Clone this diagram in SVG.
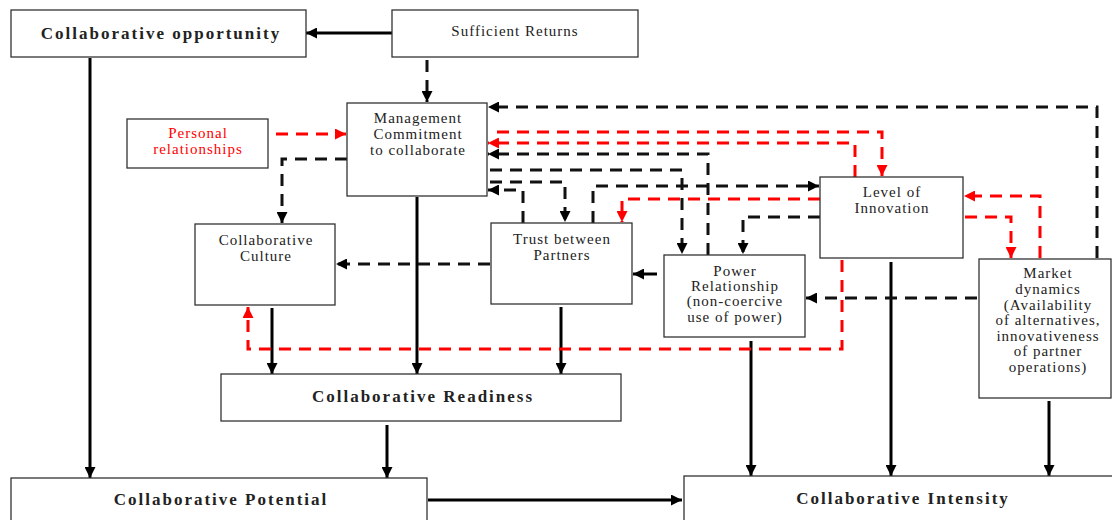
<svg xmlns="http://www.w3.org/2000/svg" width="1112" height="520" viewBox="0 0 1112 520">
<style>
.box{fill:#fff;stroke:#333;stroke-width:1.3}
.t{font-family:"Liberation Serif","Times New Roman",serif;font-size:15px;letter-spacing:1px;text-anchor:middle;fill:#222}
.tb{font-family:"Liberation Serif","Times New Roman",serif;font-size:17px;font-weight:bold;letter-spacing:2px;text-anchor:middle;fill:#222}
.red{fill:#f00}
.s{fill:none;stroke:#000;stroke-width:3;marker-end:url(#ab)}
.d{fill:none;stroke:#111;stroke-width:3;stroke-dasharray:12 8;marker-end:url(#ab)}
.r{fill:none;stroke:#f00;stroke-width:3;stroke-dasharray:12 8;marker-end:url(#ar)}
</style>
<defs>
<marker id="ab" markerUnits="userSpaceOnUse" markerWidth="11" markerHeight="11" refX="11" refY="5.5" orient="auto"><path d="M0,0 L11,5.5 L0,11 z" fill="#000"/></marker>
<marker id="ar" markerUnits="userSpaceOnUse" markerWidth="11" markerHeight="11" refX="11" refY="5.5" orient="auto"><path d="M0,0 L11,5.5 L0,11 z" fill="#f00"/></marker>
</defs>
<rect width="1112" height="520" fill="#fff"/>
<g id="connectors">
<path class="s" d="M392,33 H306"/>
<path class="s" d="M90,58 V478"/>
<path class="s" d="M417,197 V374"/>
<path class="s" d="M272,308 V374"/>
<path class="s" d="M561,307 V374"/>
<path class="s" d="M387,425 V478"/>
<path class="s" d="M428,500 H682"/>
<path class="s" d="M751,341 V476"/>
<path class="s" d="M891,262 V476"/>
<path class="s" d="M1049,401 V476"/>
<path class="s" d="M657,274 H633"/>
<path class="d" d="M427,60 V102"/>
<path class="d" d="M1097,258 V107 H488"/>
<path class="d" d="M347,159 H282 V223"/>
<path class="d" d="M490,264 H336"/>
<path class="d" d="M708,255 V154 H488"/>
<path class="d" d="M490,170 H682 V254"/>
<path class="d" d="M490,182 H565 V222"/>
<path class="d" d="M523,223 V190 H488"/>
<path class="d" d="M593,223 V186 H819"/>
<path class="d" d="M820,217 H743 V254"/>
<path class="d" d="M977,298 H806"/>
<path class="r" d="M276,134 H346"/>
<path class="r" d="M497,132 H882 V176"/>
<path class="r" d="M855,177 V143 H488"/>
<path class="r" d="M820,199 H622 V222"/>
<path class="r" d="M965,217 H1011 V258"/>
<path class="r" d="M1040,258 V196 H964"/>
<path class="r" d="M842,260 V349 H248 V307"/>
</g>
<g id="opportunity"><rect class="box" x="11" y="10" width="295" height="47"/><text class="tb" x="161" y="39">Collaborative opportunity</text></g>
<g id="returns"><rect class="box" x="392" y="10" width="246" height="47"/><text class="t" x="515" y="36">Sufficient Returns</text></g>
<g id="personal"><rect class="box" x="127" y="119" width="141" height="49"/><text class="t red" x="198" y="138">Personal</text><text class="t red" x="198" y="154">relationships</text></g>
<g id="management"><rect class="box" x="347" y="103" width="140" height="93"/><text class="t" x="418" y="123">Management</text><text class="t" x="418" y="139">Commitment</text><text class="t" x="418" y="155">to collaborate</text></g>
<g id="culture"><rect class="box" x="195" y="224" width="140" height="81"/><text class="t" x="266" y="245">Collaborative</text><text class="t" x="266" y="261">Culture</text></g>
<g id="trust"><rect class="box" x="491" y="223" width="141" height="81"/><text class="t" x="562" y="244">Trust between</text><text class="t" x="562" y="260">Partners</text></g>
<g id="power"><rect class="box" x="664" y="255" width="141" height="82"/><text class="t" x="735" y="276">Power</text><text class="t" x="735" y="291">Relationship</text><text class="t" x="735" y="306">(non-coercive</text><text class="t" x="735" y="322">use of power)</text></g>
<g id="innovation"><rect class="box" x="820" y="177" width="143" height="81"/><text class="t" x="892" y="197">Level of</text><text class="t" x="892" y="213">Innovation</text></g>
<g id="market"><rect class="box" x="979" y="259" width="132" height="139"/><text class="t" x="1048" y="278">Market</text><text class="t" x="1048" y="294">dynamics</text><text class="t" x="1048" y="310">(Availability</text><text class="t" x="1048" y="325">of alternatives,</text><text class="t" x="1048" y="341">innovativeness</text><text class="t" x="1048" y="356">of partner</text><text class="t" x="1048" y="372">operations)</text></g>
<g id="readiness"><rect class="box" x="221" y="374" width="400" height="47"/><text class="tb" x="423" y="402">Collaborative Readiness</text></g>
<g id="potential"><rect class="box" x="11" y="478" width="416" height="50"/><text class="tb" x="221" y="505">Collaborative Potential</text></g>
<g id="intensity"><rect class="box" x="684" y="476" width="440" height="52"/><text class="tb" x="903" y="504">Collaborative Intensity</text></g>
</svg>
